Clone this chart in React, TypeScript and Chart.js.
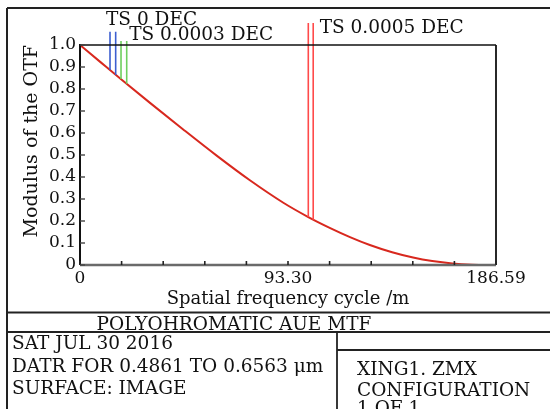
import React, { useEffect, useRef } from 'react';
import { Chart, registerables } from 'chart.js';

Chart.register(...registerables);

// ---- data ----
const freq = [0, 9.33, 18.7, 31.4, 46.3, 61.3, 76.2, 91.2, 102.4, 112.0, 121.1, 130.0, 140.0, 149.4, 158.0, 167.0, 176.0, 186.59];
const mtf = [1.0, 0.921, 0.842, 0.737, 0.616, 0.497, 0.385, 0.283, 0.218, 0.169, 0.127, 0.091, 0.058, 0.034, 0.018, 0.007, 0.0016, 0];

// legend marker lines (x position, top value, value where it meets the curve)
const blueX = [13.46, 16.0];
const blueTop = 1.06;
const blueBottom = [0.886, 0.864];
const greenX = [18.4, 20.95];
const greenTop = 1.018;
const greenBottom = [0.845, 0.824];
const redX = [102.4, 104.6];
const redTop = 1.1;
const redBottom = [0.218, 0.206];

const xMax = 186.59;
const xTickValues = [0, 18.659, 37.318, 55.977, 74.636, 93.295, 111.954, 130.613, 149.272, 167.931, 186.59];
const xLabelValues = [0, 93.295, 186.59];
const xTickLabels = ['0', '93.30', '186.59'];
const yTickValues = [0, 0.1, 0.2, 0.3, 0.4, 0.5, 0.6, 0.7, 0.8, 0.9, 1.0];
const yTickLabels = ['0', '0.1', '0.2', '0.3', '0.4', '0.5', '0.6', '0.7', '0.8', '0.9', '1.0'];

const legendLabels = ['TS 0 DEC', 'TS 0.0003 DEC', 'TS 0.0005 DEC'];
const xTitle = 'Spatial frequency cycle /m';
const yTitle = 'Modulus of the OTF';
const plotTitle = 'POLYOHROMATIC AUE MTF';
const infoLeft = ['SAT JUL 30 2016', 'DATR FOR 0.4861 TO 0.6563 μm', 'SURFACE: IMAGE'];
const infoRight = ['XING1. ZMX', 'CONFIGURATION', '1 OF 1'];

const FONT = "'DejaVu Serif'";
const BLUE = '#3d5fd0';
const GREEN = '#6fcf5f';
const RED_LINE = '#ff4a4a';
const CURVE = '#d8281e';
const FRAME = '#222222';

function seg(ctx: CanvasRenderingContext2D, x1: number, y1: number, x2: number, y2: number, w: number, c: string) {
  ctx.save();
  ctx.strokeStyle = c;
  ctx.lineWidth = w;
  ctx.beginPath();
  ctx.moveTo(x1, y1);
  ctx.lineTo(x2, y2);
  ctx.stroke();
  ctx.restore();
}

function markerDataset(xs: number[], top: number, bottoms: number[], color: string, i: number) {
  return {
    label: 'm' + i,
    data: [
      { x: xs[i], y: top },
      { x: xs[i], y: bottoms[i] },
    ],
    borderColor: color,
    borderWidth: 1.6,
    pointRadius: 0,
    clip: false as const,
  };
}

const framePlugin = {
  id: 'zemaxFrame',
  beforeDraw(chart: any) {
    const ctx = chart.ctx as CanvasRenderingContext2D;
    ctx.save();
    ctx.fillStyle = '#ffffff';
    ctx.fillRect(0, 0, chart.width, chart.height);
    ctx.restore();
  },
  afterDraw(chart: any) {
    const ctx = chart.ctx as CanvasRenderingContext2D;
    const { left, right, top, bottom } = chart.chartArea;
    const xs = chart.scales.x;
    const ys = chart.scales.y;

    // plot box
    seg(ctx, left, top, right, top, 1.6, '#111');
    seg(ctx, right, top, right, bottom, 1.8, '#111');
    seg(ctx, left, top - 1, left, bottom, 2, '#111');
    seg(ctx, left, bottom, right, bottom, 2.6, '#6a6a6a');

    // inward ticks
    xTickValues.forEach((v) => {
      const px = xs.getPixelForValue(v);
      seg(ctx, px, bottom, px, bottom - 4, 1.6, '#222');
    });
    yTickValues.forEach((v) => {
      const py = ys.getPixelForValue(v);
      seg(ctx, left, py, left + 5, py, 1.4, '#444');
    });

    // legend labels
    ctx.save();
    ctx.fillStyle = '#111';
    ctx.font = `18.5px ${FONT}`;
    ctx.textBaseline = 'alphabetic';
    ctx.textAlign = 'left';
    ctx.fillText(legendLabels[0], xs.getPixelForValue(blueX[0]) - 4, 25);
    ctx.fillText(legendLabels[1], xs.getPixelForValue(greenX[1]) + 2.5, 40);
    ctx.fillText(legendLabels[2], xs.getPixelForValue(redX[1]) + 6.5, 33);
    ctx.restore();

    // outer frame
    const W = chart.width;
    const H = chart.height;
    seg(ctx, 7, 8, W, 8, 2, FRAME);
    seg(ctx, 7, 8, 7, H, 2, FRAME);
    seg(ctx, 7, 312.5, W, 312.5, 1.8, FRAME);
    seg(ctx, 7, 332, W, 332, 1.8, FRAME);
    seg(ctx, 337, 332, 337, H, 1.8, FRAME);
    seg(ctx, 337, 350, W, 350, 1.8, FRAME);

    ctx.save();
    ctx.fillStyle = '#111';
    ctx.font = `18.5px ${FONT}`;
    ctx.textBaseline = 'alphabetic';
    ctx.textAlign = 'center';
    ctx.fillText(plotTitle, 234, 330);
    ctx.textAlign = 'left';
    infoLeft.forEach((t, i) => ctx.fillText(t, 12, 349 + i * 22.5));
    const rightBaselines = [375, 396, 414];
    infoRight.forEach((t, i) => ctx.fillText(t, 357, rightBaselines[i]));
    ctx.restore();
  },
};

export default function App() {
  const ref = useRef<HTMLCanvasElement | null>(null);

  useEffect(() => {
    if (!ref.current) return;
    const datasets: any[] = [
      markerDataset(blueX, blueTop, blueBottom, BLUE, 0),
      markerDataset(blueX, blueTop, blueBottom, BLUE, 1),
      markerDataset(greenX, greenTop, greenBottom, GREEN, 0),
      markerDataset(greenX, greenTop, greenBottom, GREEN, 1),
      markerDataset(redX, redTop, redBottom, RED_LINE, 0),
      markerDataset(redX, redTop, redBottom, RED_LINE, 1),
      {
        label: 'MTF',
        data: freq.map((f, i) => ({ x: f, y: mtf[i] })),
        borderColor: CURVE,
        borderWidth: 2,
        pointRadius: 0,
        cubicInterpolationMode: 'monotone',
      },
    ];
    const chart = new Chart(ref.current, {
      type: 'line',
      data: { datasets },
      plugins: [framePlugin],
      options: {
        animation: false,
        responsive: false,
        devicePixelRatio: 1,
        layout: { padding: { left: 0, top: 45, right: 54, bottom: 99 } },
        plugins: { legend: { display: false }, tooltip: { enabled: false } },
        font: { family: FONT },
        scales: {
          x: {
            type: 'linear',
            min: 0,
            max: xMax,
            afterBuildTicks: (scale: any) => {
              scale.ticks = xTickValues.map((v) => ({ value: v }));
            },
            afterFit: (scale: any) => {
              scale.height = 45;
            },
            grid: { display: false, drawTicks: false },
            border: { display: false },
            ticks: {
              autoSkip: false,
              maxRotation: 0,
              padding: 3,
              color: '#111',
              font: { family: FONT, size: 17 },
              callback: (value: any) => {
                const i = xLabelValues.findIndex((v) => Math.abs(v - Number(value)) < 1e-6);
                return i >= 0 ? xTickLabels[i] : '';
              },
            },
            title: {
              display: true,
              text: xTitle,
              color: '#111',
              font: { family: FONT, size: 18 },
              padding: { top: 0, bottom: 0 },
            },
          },
          y: {
            type: 'linear',
            min: 0,
            max: 1,
            afterBuildTicks: (scale: any) => {
              scale.ticks = yTickValues.map((v) => ({ value: v }));
            },
            afterFit: (scale: any) => {
              scale.width = 80;
            },
            grid: { display: false, drawTicks: false },
            border: { display: false },
            ticks: {
              autoSkip: false,
              padding: 4,
              color: '#111',
              font: { family: FONT, size: 17 },
              callback: (value: any) => {
                const i = yTickValues.findIndex((v) => Math.abs(v - Number(value)) < 1e-6);
                return i >= 0 ? yTickLabels[i] : '';
              },
            },
            title: {
              display: true,
              text: yTitle,
              align: 'end',
              color: '#111',
              font: { family: FONT, size: 19 },
              padding: { top: 21, bottom: 0 },
            },
          },
        },
      },
    } as any);
    return () => chart.destroy();
  }, []);

  return (
    <div style={{ position: 'fixed', left: 0, top: 0, width: 550, height: 409, background: '#fff' }}>
      <canvas ref={ref} width={550} height={409} style={{ display: 'block', width: 550, height: 409 }} />
    </div>
  );
}
